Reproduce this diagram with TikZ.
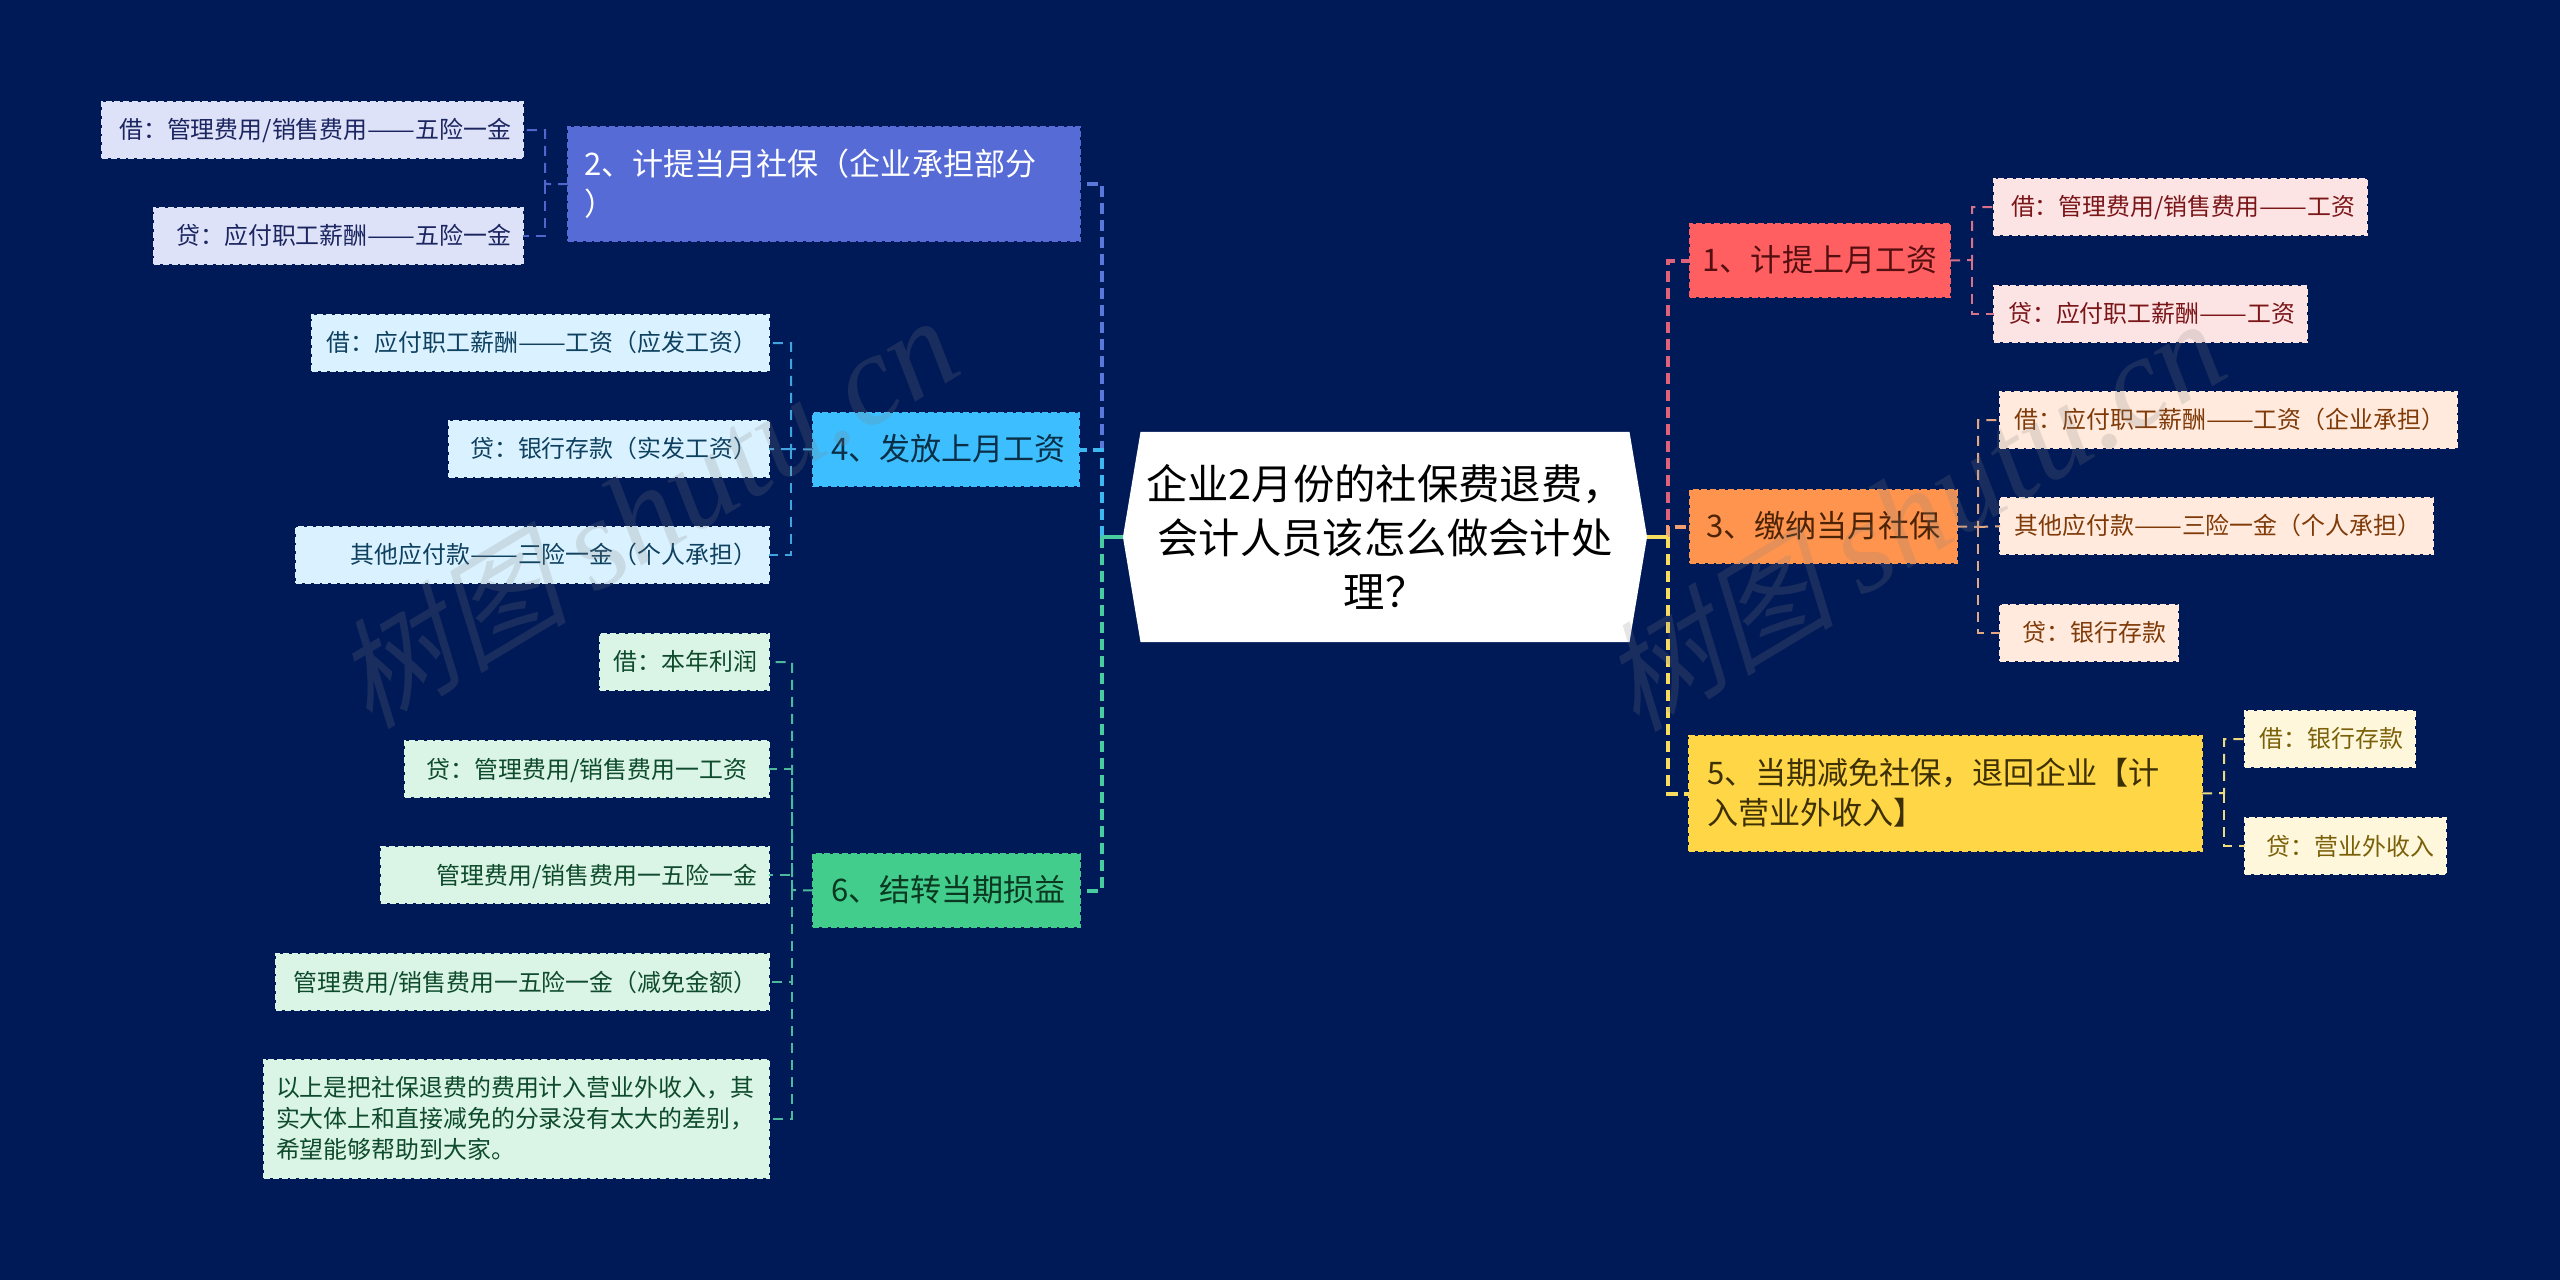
\documentclass[tikz,border=0pt]{standalone}
\usepackage{graphicx}
\usepackage{fontspec}
\setmainfont{Noto Sans CJK SC}
\newfontfamily\markcjk[FakeSlant=0.25]{Noto Sans CJK SC}
\newfontfamily\marklatin{Liberation Serif}
\usetikzlibrary{shapes.symbols}

\newcommand{\longdash}{\resizebox{2em}{\height}{——}}

\definecolor{canvas}{HTML}{001A57}
\definecolor{redfill}{HTML}{FF5F60}
\definecolor{redleaf}{HTML}{FDE4E4}
\definecolor{redtext}{HTML}{7A1518}
\definecolor{redline}{HTML}{E0627A}
\definecolor{redthin}{HTML}{D8728A}
\definecolor{orangefill}{HTML}{FF944F}
\definecolor{orangeleaf}{HTML}{FFEADD}
\definecolor{orangetext}{HTML}{7F3A08}
\definecolor{orangeline}{HTML}{F0A070}
\definecolor{orangethin}{HTML}{E2A783}
\definecolor{yellowfill}{HTML}{FFD645}
\definecolor{yellowleaf}{HTML}{FFF7DC}
\definecolor{yellowtext}{HTML}{7A6008}
\definecolor{yellowline}{HTML}{F7DC60}
\definecolor{yellowthin}{HTML}{EDD97E}
\definecolor{greenfill}{HTML}{43CD8C}
\definecolor{greenleaf}{HTML}{DAF4E6}
\definecolor{greentext}{HTML}{0E4A2C}
\definecolor{greenline}{HTML}{48CDA0}
\definecolor{greenthin}{HTML}{4CB89C}
\definecolor{cyanfill}{HTML}{3DBEFF}
\definecolor{cyanleaf}{HTML}{DAF2FF}
\definecolor{cyantext}{HTML}{0E4060}
\definecolor{cyanline}{HTML}{3DB8F0}
\definecolor{cyanthin}{HTML}{40A4DE}
\definecolor{bluefill}{HTML}{566BD6}
\definecolor{blueleaf}{HTML}{DEE2F8}
\definecolor{bluetext}{HTML}{1B2560}
\definecolor{blueline}{HTML}{5A78DC}
\definecolor{bluethin}{HTML}{4F66CC}

\tikzset{
  boxedge/.style={rectangle, outer sep=0pt, line width=0.05cm, dash pattern=on 0.15cm off 0.07cm, anchor=north west},
  branchnode/.style={boxedge, font=\fontsize{22.1}{28.4}\selectfont, inner ysep=0pt, minimum height=1.825cm, text height=18pt, text depth=2pt},
  leafnode/.style={boxedge, font=\fontsize{17}{22}\selectfont, inner xsep=0.3cm, inner ysep=0pt, minimum height=1.41cm, align=right, text height=14.5pt, text depth=2pt},
  trunkline/.style={line width=0.1cm, dash pattern=on 0.275cm off 0.15cm},
  rootline/.style={line width=0.1cm},
  childline/.style={line width=0.05cm, dash pattern=on 0.25cm off 0.175cm},
  markstyle/.style={rotate=31, text=gray, font=\fontsize{84}{84}\selectfont},
}

\begin{document}
\begin{tikzpicture}[x=0.025cm, y=-0.025cm]

\fill[canvas] (0,0) rectangle (2560,1280);
\useasboundingbox (0,0) rectangle (2560,1280);

% centre
\node at (1385,537)[signal, signal to=west and east, signal pointer angle=161, fill=white, inner sep=0pt, outer sep=0pt, minimum width=13.1cm, minimum height=5.25cm, align=center, font=\fontsize{29.4}{38.4}\selectfont] (topic) {企业2月份的社保费退费，\\会计人员该怎么做会计处\\理？};

\coordinate (trunkR) at (1668,537);
\coordinate (trunkL) at (1102,537);

% left side
\node at (568,127)[branchnode, draw=bluefill, fill=bluefill, text=white, inner xsep=0.4cm, text width=12cm, minimum height=2.85cm, text depth=30.4pt, align=left] (plan2) {2、计提当月社保（企业承担部分\\）};
\node at (813,413)[branchnode, draw=cyanfill, fill=cyanfill, text=cyantext!75!black, inner xsep=0.45cm, text width=5.75cm, align=left] (plan4) {4、发放上月工资};
\node at (813,854)[branchnode, draw=greenfill, fill=greenfill, text=greentext!75!black, inner xsep=0.45cm, text width=5.775cm, align=left] (plan6) {6、结转当期损益};

\node at (102,102)[leafnode, draw=blueleaf, fill=blueleaf, text=bluetext, text width=9.925cm] (leaf2a) {借：管理费用/销售费用\longdash 五险一金};
\node at (154,208)[leafnode, draw=blueleaf, fill=blueleaf, text=bluetext, text width=8.625cm] (leaf2b) {贷：应付职工薪酬\longdash 五险一金};

\node at (312,315)[leafnode, draw=cyanleaf, fill=cyanleaf, text=cyantext, text width=10.825cm] (leaf4a) {借：应付职工薪酬\longdash 工资（应发工资）};
\node at (449,421)[leafnode, draw=cyanleaf, fill=cyanleaf, text=cyantext, text width=7.4cm] (leaf4b) {贷：银行存款（实发工资）};
\node at (296,527)[leafnode, draw=cyanleaf, fill=cyanleaf, text=cyantext, text width=11.225cm] (leaf4c) {其他应付款\longdash 三险一金（个人承担）};

\node at (600,634)[leafnode, draw=greenleaf, fill=greenleaf, text=greentext, text width=3.625cm] (leaf6a) {借：本年利润};
\node at (405,741)[leafnode, draw=greenleaf, fill=greenleaf, text=greentext, text width=8.5cm, align=center] (leaf6b) {贷：管理费用/销售费用一工资};
\node at (381,847)[leafnode, draw=greenleaf, fill=greenleaf, text=greentext, text width=9.1cm] (leaf6c) {管理费用/销售费用一五险一金};
\node at (276,954)[leafnode, draw=greenleaf, fill=greenleaf, text=greentext, text width=11.725cm] (leaf6d) {管理费用/销售费用一五险一金（减免金额）};
\node at (264,1060)[leafnode, draw=greenleaf, fill=greenleaf, text=greentext, text width=12.025cm, minimum height=2.95cm, text depth=46pt, align=left] (leaf6e) {以上是把社保退费的费用计入营业外收入，其\\实大体上和直接减免的分录没有太大的差别，\\希望能够帮助到大家。};

% right side
\node at (1690,224)[branchnode, draw=redfill, fill=redfill, text=redtext!70!black, inner xsep=0pt, text width=6.5cm, align=center] (plan1) {1、计提上月工资};
\node at (1690,490)[branchnode, draw=orangefill, fill=orangefill, text=orangetext!60!black, inner xsep=0pt, text width=6.675cm, align=center] (plan3) {3、缴纳当月社保};
\node at (1689,736)[branchnode, draw=yellowfill, fill=yellowfill, text=yellowtext!50!black, inner xsep=0.45cm, text width=11.925cm, minimum height=2.875cm, text depth=30.4pt, align=left] (plan5) {5、当期减免社保，退回企业【计\\入营业外收入】};

\node at (1994,179)[leafnode, draw=redleaf, fill=redleaf, text=redtext, text width=8.725cm] (leaf1a) {借：管理费用/销售费用\longdash 工资};
\node at (1994,286)[leafnode, draw=redleaf, fill=redleaf, text=redtext, text width=7.225cm] (leaf1b) {贷：应付职工薪酬\longdash 工资};

\node at (2000,392)[leafnode, draw=orangeleaf, fill=orangeleaf, text=orangetext, text width=10.825cm] (leaf3a) {借：应付职工薪酬\longdash 工资（企业承担）};
\node at (2000,498)[leafnode, draw=orangeleaf, fill=orangeleaf, text=orangetext, text width=10.225cm] (leaf3b) {其他应付款\longdash 三险一金（个人承担）};
\node at (2000,605)[leafnode, draw=orangeleaf, fill=orangeleaf, text=orangetext, text width=3.85cm] (leaf3c) {贷：银行存款};

\node at (2245,711)[leafnode, draw=yellowleaf, fill=yellowleaf, text=yellowtext, text width=3.65cm] (leaf5a) {借：银行存款};
\node at (2245,818)[leafnode, draw=yellowleaf, fill=yellowleaf, text=yellowtext, text width=4.425cm] (leaf5b) {贷：营业外收入};

% trunks
\draw[trunkline, blueline] (trunkL) |- (plan2.east);
\draw[trunkline, cyanline] (trunkL) |- (plan4.east);
\draw[trunkline, greenline] (trunkL) |- (plan6.east);
\draw[rootline, greenline] (topic.west) -- (trunkL);

\draw[trunkline, redline] (trunkR) |- (plan1.west);
\draw[trunkline, orangeline] (trunkR) |- (plan3.west);
\draw[trunkline, yellowline] (trunkR) |- (plan5.west);
\draw[rootline, yellowline] (topic.east) -- (trunkR);

% twigs
\coordinate (twig2) at (545,184);
\coordinate (twig4) at (791,449);
\coordinate (twig6) at (792,890);
\coordinate (twig1) at (1972,260);
\coordinate (twig3) at (1978,527);
\coordinate (twig5) at (2224,793);

\draw[childline, bluethin] (plan2.west) -- (twig2) |- (leaf2a.east);
\draw[childline, bluethin] (twig2) |- (leaf2b.east);

\draw[childline, cyanthin] (plan4.west) -- (twig4) |- (leaf4a.east);
\draw[childline, cyanthin] (twig4) -- (leaf4b.east);
\draw[childline, cyanthin] (twig4) |- (leaf4c.east);

\draw[childline, greenthin] (plan6.west) -- (twig6) |- (leaf6a.east);
\draw[childline, greenthin] (twig6) |- (leaf6b.east);
\draw[childline, greenthin] (twig6) |- (leaf6c.east);
\draw[childline, greenthin] (twig6) |- (leaf6d.east);
\draw[childline, greenthin] (twig6) |- (leaf6e.east);

\draw[childline, redthin] (plan1.east) -- (twig1) |- (leaf1a.west);
\draw[childline, redthin] (twig1) |- (leaf1b.west);

\draw[childline, orangethin] (plan3.east) -- (twig3) |- (leaf3a.west);
\draw[childline, orangethin] (twig3) -- (leaf3b.west);
\draw[childline, orangethin] (twig3) |- (leaf3c.west);

\draw[childline, yellowthin] (plan5.east) -- (twig5) |- (leaf5a.west);
\draw[childline, yellowthin] (twig5) |- (leaf5b.west);

% watermark
\begin{scope}[opacity=0.2]
\node at (645,512)[markstyle] (mark1) {\markcjk 树图 \marklatin\itshape\fontsize{92}{92}\selectfont shutu.cn};
\node at (1912,515)[markstyle] (mark2) {\markcjk 树图 \marklatin\itshape\fontsize{92}{92}\selectfont shutu.cn};
\end{scope}

\end{tikzpicture}
\end{document}
